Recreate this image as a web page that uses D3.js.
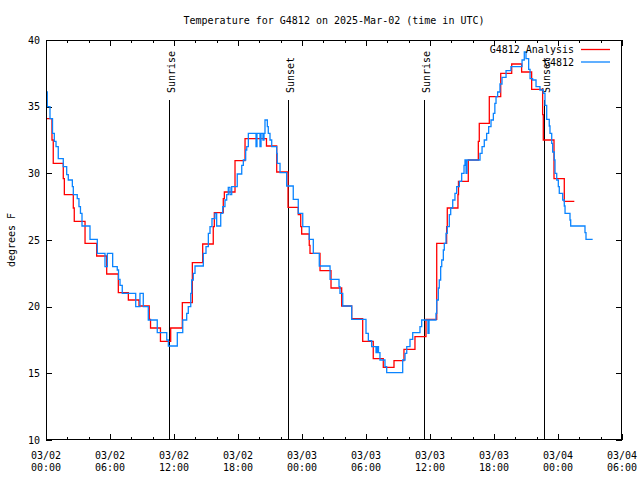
<!DOCTYPE html>
<html><head><meta charset="utf-8">
<script src="https://cdn.jsdelivr.net/npm/d3@7"></script>
<style>
html,body{margin:0;padding:0;background:#fff;}
svg{display:block;}
text{font-family:"DejaVu Sans Mono","Liberation Mono",monospace;font-size:10px;fill:#000;}
</style></head>
<body>
<svg id="chart" width="640" height="480"></svg>
<script>
// hours since 2025-03-02 00:00 UTC
const titleText = "Temperature for G4812 on 2025-Mar-02 (time in UTC)";
const yLabel = "degrees F";
const xTickHours = [0, 6, 12, 18, 24, 30, 36, 42, 48, 54];
const xTickDates = ["03/02","03/02","03/02","03/02","03/03","03/03","03/03","03/03","03/04","03/04"];
const xTickTimes = ["00:00","06:00","12:00","18:00","00:00","06:00","12:00","18:00","00:00","06:00"];
const yTicks = [10, 15, 20, 25, 30, 35, 40];
const sunHours = [11.56, 22.72, 35.47, 46.69];
const sunLabels = ["Sunrise", "Sunset", "Sunrise", "Sunset"];
const seriesNames = ["G4812 Analysis", "G4812"];

const analysisHours = [0,0.56,0.68,1.62,1.72,2.56,2.65,3.66,4.75,5.69,6.78,7.72,8.72,9.68,9.80,10.73,11.69,12.78,13.72,14.69,15.68,15.78,16.62,16.72,17.72,18.66,20.67,21.63,22.69,23.65,23.88,23.97,24.68,24.75,25.69,26.72,27.72,28.66,29.69,30.68,31.62,32.625,33.56,34.59,35.625,36.63,37.56,37.62,38.62,38.67,39.59,40.53,40.62,41.56,42.63,43.66,44.59,45.53,46.56,46.62,47.625,48.59,49.53];
const analysisTemps = [34.1,32.5,30.75,29.6,28.4,27.4,26.4,24.75,23.8,22.45,21.05,20.5,20.05,19.05,18.4,17.4,18.4,20.3,23.3,24.7,26.0,27.05,28.1,28.6,30.95,32.6,32.05,30.1,27.45,26.9,26.0,25.45,24.6,24.0,22.7,21.4,20.05,19.1,17.4,16.1,15.45,15.95,16.8,17.75,19.05,24.75,26.0,27.4,28.4,29.4,31.0,32.4,33.75,35.75,37.5,38.2,37.6,36.3,34.4,32.5,29.6,27.9,27.9];

const obsHours = [0,0.12,0.375,0.61,0.78,0.94,1.15,1.62,1.94,2.09,2.47,2.56,2.93,3.09,3.23,3.375,4.125,4.81,5.53,5.75,6.25,6.68,6.80,6.94,7.15,8.41,8.81,9.12,9.59,10.43,11.32,11.47,12.31,12.82,13.19,13.34,13.57,13.66,13.81,13.97,14.75,15.0,15.22,15.375,15.56,15.84,16.0,16.38,16.57,16.78,16.94,17.09,17.25,17.41,17.93,18.35,18.5,18.72,18.82,18.97,19.69,19.78,20.06,20.16,20.34,20.44,20.53,20.75,20.84,21.0,21.16,21.63,21.68,21.94,22.56,23.18,23.65,24.07,24.68,25.06,25.62,26.63,27.47,27.56,27.82,28.66,30.0,30.22,30.53,30.94,31.06,31.17,31.31,31.78,31.94,33.44,33.66,33.82,34.125,34.38,35.06,35.22,35.81,35.91,36.56,36.63,36.78,36.87,37.0,37.1,37.25,37.34,37.5,37.62,37.81,37.94,38.13,38.34,38.5,38.75,38.97,39.19,39.28,39.38,39.47,40.69,40.88,41.09,41.31,41.5,41.72,41.94,42.08,42.19,42.34,42.56,42.75,43.13,43.59,44.63,44.84,45.0,45.25,45.38,45.62,45.94,46.31,46.62,46.78,46.94,47.18,47.25,47.41,47.5,47.65,47.72,47.88,48.03,48.12,48.44,48.59,48.66,49.125,49.19,50.53,50.625,51.25];
const obsTemps = [36.1,35.0,34.1,33.0,32.4,32.0,31.1,30.5,29.9,29.5,29.0,28.4,28.1,27.5,27.0,26.05,25.05,24.0,23.0,24.0,23.0,22.75,22.05,21.6,21.0,20.0,21.0,20.0,19.0,18.05,17.5,17.05,18.05,19.0,19.5,20.0,21.0,22.0,22.5,23.05,24.0,24.5,25.5,26.0,26.6,27.0,26.05,27.0,27.5,28.0,28.4,28.95,28.4,29.0,29.95,30.6,31.0,31.75,32.0,33.0,32.0,33.0,32.0,33.0,32.5,33.0,34.0,33.5,33.0,32.5,32.0,31.5,30.75,30.05,29.05,28.05,27.0,26.0,25.05,24.0,23.05,22.05,21.5,21.0,20.05,19.05,18.0,17.45,17.0,16.55,17.0,16.55,16.0,15.5,15.05,16.0,16.5,17.0,17.55,18.05,18.5,19.0,18.0,19.0,19.5,20.5,21.4,22.0,23.0,23.5,24.25,24.75,25.5,26.0,26.9,27.4,28.0,28.5,29.0,29.4,30.0,30.6,31.0,30.0,31.0,31.5,32.0,32.5,33.0,33.5,34.0,34.5,35.25,35.75,36.1,36.7,37.2,37.7,38.0,38.5,39.1,38.6,37.8,37.1,37.0,36.5,36.25,36.0,35.1,34.05,33.55,33.0,32.25,31.6,31.0,30.0,29.5,29.0,28.5,28.0,27.55,27.0,26.5,26.05,25.55,25.05,25.05];

const colors = ["#ff0000", "#0a84ff"];

const svg = d3.select("#chart");
const L = 46, R = 622, T = 40, B = 440;
const x = d3.scaleLinear().domain([0, 54]).range([L, R]);
const y = d3.scaleLinear().domain([10, 40]).range([B, T]);

// title
svg.append("text").attr("x", (L + R) / 2).attr("y", 20).attr("text-anchor", "middle")
  .attr("dominant-baseline", "central").text(titleText);

// y label
svg.append("text").attr("transform", `translate(11,${(T + B) / 2}) rotate(-90)`)
  .attr("text-anchor", "middle").attr("dominant-baseline", "central").text(yLabel);

// axes ticks (inward) via d3 axes
const minorX = d3.range(0, 54.01, 2).filter(h => h % 6 !== 0);
function tickStyle(g) { g.select(".domain").remove(); g.selectAll("line").attr("stroke", "#000").attr("shape-rendering", "crispEdges"); g.selectAll("text").remove(); }
svg.append("g").attr("transform", `translate(0,${B})`).call(d3.axisBottom(x).tickValues(xTickHours).tickSize(-6)).call(tickStyle);
svg.append("g").attr("transform", `translate(0,${T})`).call(d3.axisTop(x).tickValues(xTickHours).tickSize(-6)).call(tickStyle);
svg.append("g").attr("transform", `translate(0,${B})`).call(d3.axisBottom(x).tickValues(minorX).tickSize(-3)).call(tickStyle);
svg.append("g").attr("transform", `translate(0,${T})`).call(d3.axisTop(x).tickValues(minorX).tickSize(-3)).call(tickStyle);
svg.append("g").attr("transform", `translate(${L},0)`).call(d3.axisLeft(y).tickValues(yTicks).tickSize(-6)).call(tickStyle);
svg.append("g").attr("transform", `translate(${R},0)`).call(d3.axisRight(y).tickValues(yTicks).tickSize(-6)).call(tickStyle);

// tick labels
yTicks.forEach(v => {
  svg.append("text").attr("x", L - 6).attr("y", y(v)).attr("text-anchor", "end")
    .attr("dominant-baseline", "central").text(v);
});
xTickHours.forEach((h, i) => {
  svg.append("text").attr("x", x(h)).attr("y", 455).attr("text-anchor", "middle")
    .attr("dominant-baseline", "central").text(xTickDates[i]);
  svg.append("text").attr("x", x(h)).attr("y", 467).attr("text-anchor", "middle")
    .attr("dominant-baseline", "central").text(xTickTimes[i]);
});

// sunrise / sunset lines
sunHours.forEach((h, i) => {
  const xx = Math.round(x(h)) + 0.5;
  svg.append("line").attr("x1", xx).attr("x2", xx).attr("y1", 100).attr("y2", B)
    .attr("stroke", "#000").attr("stroke-width", 1);
  svg.append("text").attr("transform", `translate(${xx + 1.5},93) rotate(-90)`)
    .attr("text-anchor", "start").attr("dominant-baseline", "central").text(sunLabels[i]);
});

// series
const line = d3.line().x(d => x(d[0])).y(d => y(d[1])).curve(d3.curveStepAfter);
const analysis = analysisHours.map((h, i) => [h, analysisTemps[i]]);
const obs = obsHours.map((h, i) => [h, obsTemps[i]]);
svg.append("path").datum(analysis).attr("d", line).attr("fill", "none")
  .attr("stroke", colors[0]).attr("stroke-width", 1.3);
svg.append("path").datum(obs).attr("d", line).attr("fill", "none")
  .attr("stroke", colors[1]).attr("stroke-width", 1.3);

// border
svg.append("rect").attr("x", L + 0.5).attr("y", T + 0.5).attr("width", R - L - 1).attr("height", B - T - 1)
  .attr("fill", "none").attr("stroke", "#000").attr("shape-rendering", "crispEdges");

// legend
seriesNames.forEach((n, i) => {
  const yy = 49.5 + i * 12.5;
  svg.append("text").attr("x", 574).attr("y", yy).attr("text-anchor", "end")
    .attr("dominant-baseline", "central").text(n);
  svg.append("line").attr("x1", 581).attr("x2", 610).attr("y1", yy).attr("y2", yy)
    .attr("stroke", colors[i]).attr("stroke-width", 1.3);
});
</script>
</body></html>
